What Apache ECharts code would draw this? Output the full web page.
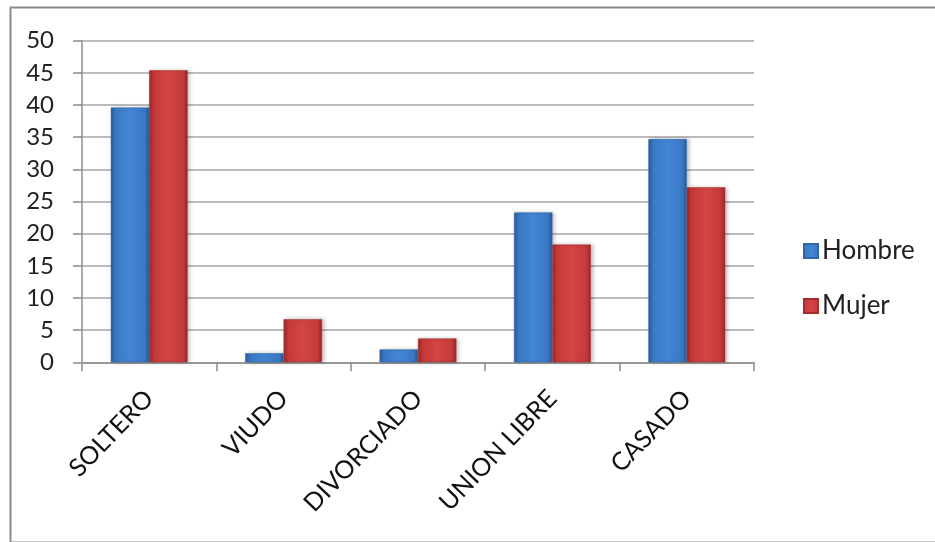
<!DOCTYPE html>
<html>
<head>
<meta charset="utf-8">
<script src="https://cdn.jsdelivr.net/npm/echarts@6/dist/echarts.min.js"></script>
<style>
  html, body { margin: 0; padding: 0; background: #ffffff; }
  #chart { width: 935px; height: 542px; }
</style>
</head>
<body>
<div id="chart"></div>
<script>
// Estado civil por sexo
const categories = ['SOLTERO', 'VIUDO', 'DIVORCIADO', 'UNION LIBRE', 'CASADO'];
const hombre = [39.6, 1.4, 2.0, 23.3, 34.7];
const mujer = [45.4, 6.7, 3.7, 18.3, 27.2];
const yTicks = { min: 0, max: 50, interval: 5 };

const FONT = 'Lato, "Open Sans", sans-serif';

function barFill(edge, mid, light) {
  return new echarts.graphic.LinearGradient(0, 0, 1, 0, [
    { offset: 0, color: edge },
    { offset: 0.12, color: mid },
    { offset: 0.5, color: light },
    { offset: 0.88, color: mid },
    { offset: 1, color: edge }
  ]);
}

const blueFill = barFill('#285a98', '#3a78c4', '#4387d6');
const redFill = barFill('#9a2626', '#c53a3a', '#d44545');

const chart = echarts.init(document.getElementById('chart'), null, { renderer: 'canvas' });

chart.setOption({
  animation: false,
  backgroundColor: '#ffffff',
  graphic: [{
    type: 'rect',
    left: 8, top: 5,
    shape: { width: 940, height: 535 },
    style: { fill: 'none', stroke: '#8a8a8a', lineWidth: 2 },
    silent: true,
    z: 0
  }],
  grid: { left: 82, right: 181, top: 40.7, bottom: 179.7, containLabel: false },
  legend: {
    orient: 'vertical',
    left: 798,
    top: 233,
    itemWidth: 14,
    itemHeight: 14,
    itemGap: 29,
    icon: 'rect',
    textStyle: { fontFamily: FONT, fontSize: 26, color: '#222222', padding: [0, 0, 0, -1] },
    data: ['Hombre', 'Mujer']
  },
  xAxis: {
    type: 'category',
    data: categories,
    axisLine: { lineStyle: { color: '#8c8c8c', width: 1.5 } },
    axisTick: { show: true, length: 9, lineStyle: { color: '#8c8c8c', width: 1.5 } },
    axisLabel: {
      rotate: 46,
      margin: 32,
      fontFamily: FONT,
      fontSize: 25,
      color: '#111111'
    }
  },
  yAxis: {
    type: 'value',
    min: yTicks.min,
    max: yTicks.max,
    interval: yTicks.interval,
    axisLine: { show: true, lineStyle: { color: '#8c8c8c', width: 1.5 } },
    axisTick: { show: true, length: 9, inside: false, lineStyle: { color: '#8c8c8c', width: 1.5 } },
    splitLine: { show: true, lineStyle: { color: '#a6a6a6', width: 1.5 } },
    axisLabel: {
      margin: 28,
      fontFamily: FONT,
      fontSize: 24,
      color: '#222222'
    }
  },
  series: [
    {
      name: 'Hombre',
      type: 'bar',
      data: hombre,
      barGap: '0%',
      barCategoryGap: '42.86%',
      itemStyle: {
        color: blueFill,
        borderColor: '#2f66a8',
        borderWidth: 0.5,
        shadowColor: 'rgba(0,0,0,0.25)',
        shadowBlur: 4,
        shadowOffsetX: 2
      }
    },
    {
      name: 'Mujer',
      type: 'bar',
      data: mujer,
      itemStyle: {
        color: redFill,
        borderColor: '#a52d2d',
        borderWidth: 0.5,
        shadowColor: 'rgba(0,0,0,0.25)',
        shadowBlur: 4,
        shadowOffsetX: 2
      }
    }
  ]
});
</script>
</body>
</html>
